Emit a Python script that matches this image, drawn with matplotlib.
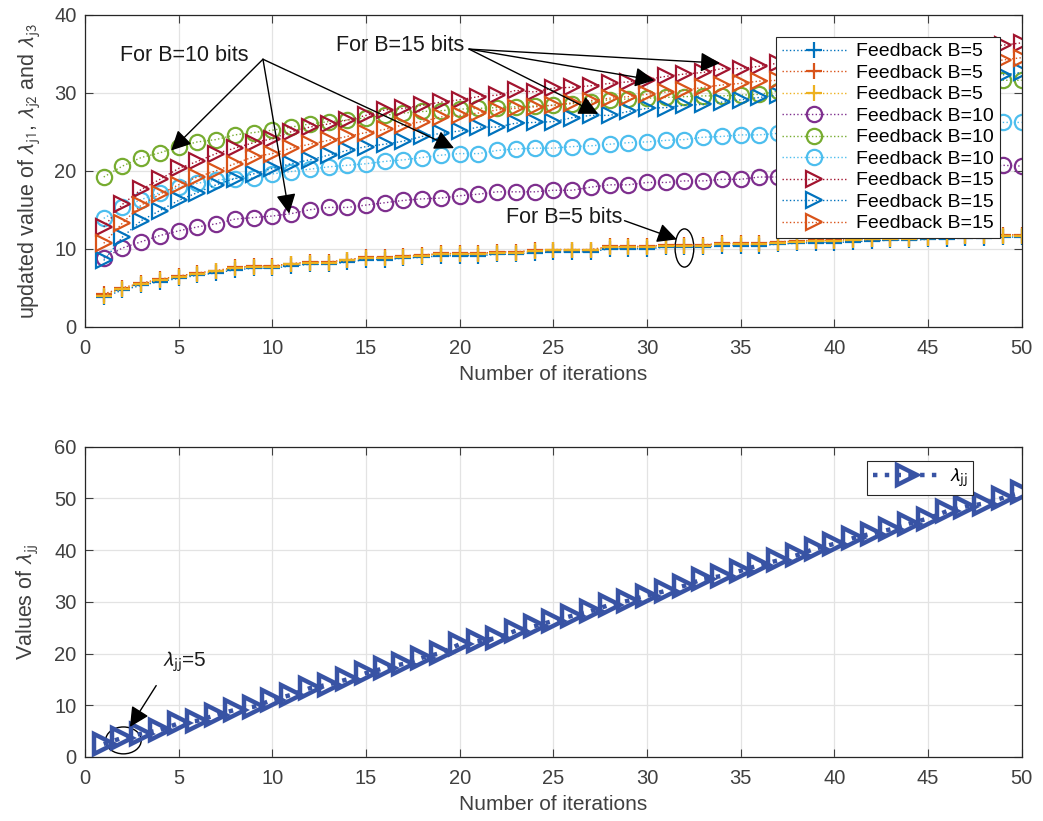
import matplotlib.pyplot as plt
from matplotlib.patches import Ellipse

plt.rcParams['font.family'] = ['Liberation Sans', 'DejaVu Sans']
plt.rcParams['mathtext.fontset'] = 'stixsans'

# iterations
iters = list(range(1, 51))

# Feedback B=5 (three users)
b5_u1 = [3.8, 4.7, 5.3, 5.8, 6.2, 6.6, 6.9, 7.3, 7.5, 7.5, 7.8, 8.0, 8.0, 8.3, 8.6, 8.6, 8.8, 8.9, 9.1, 9.1,
         9.1, 9.3, 9.3, 9.5, 9.6, 9.6, 9.6, 10.0, 10.0, 10.0, 10.2, 10.2, 10.2, 10.4, 10.4, 10.4, 10.6, 10.7, 10.8, 10.8,
         10.9, 11.0, 11.1, 11.1, 11.2, 11.3, 11.4, 11.4, 11.5, 11.5]
b5_u2 = [4.2, 5.0, 5.6, 6.1, 6.5, 6.9, 7.2, 7.6, 7.8, 7.8, 8.1, 8.3, 8.3, 8.6, 8.9, 8.9, 9.1, 9.2, 9.4, 9.4,
         9.4, 9.6, 9.6, 9.8, 9.9, 9.9, 9.9, 10.3, 10.3, 10.3, 10.5, 10.5, 10.5, 10.7, 10.7, 10.7, 10.9, 11.0, 11.1, 11.1,
         11.2, 11.3, 11.4, 11.4, 11.5, 11.6, 11.7, 11.7, 11.8, 11.8]
b5_u3 = [4.0, 4.9, 5.5, 6.0, 6.4, 6.8, 7.1, 7.5, 7.7, 7.7, 8.0, 8.2, 8.2, 8.5, 8.8, 8.8, 9.0, 9.1, 9.3, 9.3,
         9.3, 9.5, 9.5, 9.7, 9.8, 9.8, 9.8, 10.2, 10.2, 10.2, 10.4, 10.4, 10.4, 10.6, 10.6, 10.6, 10.8, 10.9, 11.0, 11.0,
         11.1, 11.2, 11.3, 11.3, 11.4, 11.5, 11.6, 11.6, 11.7, 11.7]

# Feedback B=10 (three users)
b10_u1 = [8.8, 10.1, 10.9, 11.7, 12.3, 12.8, 13.2, 13.8, 14.0, 14.2, 14.5, 15.0, 15.3, 15.3, 15.6, 15.9, 16.2, 16.4, 16.5, 16.8,
          17.0, 17.3, 17.3, 17.3, 17.5, 17.5, 17.9, 18.2, 18.2, 18.5, 18.5, 18.7, 18.7, 18.9, 18.9, 19.2, 19.2, 19.4, 19.5, 19.6,
          19.7, 19.8, 19.9, 20.0, 20.1, 20.2, 20.3, 20.4, 20.7, 20.6]
b10_u2 = [19.2, 20.6, 21.7, 22.3, 23.1, 23.7, 24.0, 24.6, 24.9, 25.2, 25.6, 26.0, 26.3, 26.5, 26.8, 27.1, 27.4, 27.6, 27.7, 27.9,
          28.0, 28.1, 28.2, 28.3, 28.4, 28.6, 28.8, 29.1, 29.2, 29.3, 29.4, 29.5, 29.6, 29.6, 29.7, 29.8, 30.2, 30.3, 30.4, 30.5,
          30.6, 30.7, 30.8, 30.9, 31.0, 31.1, 31.2, 31.3, 31.6, 31.6]
b10_u3 = [13.9, 15.3, 16.3, 17.2, 17.9, 18.4, 18.8, 19.0, 19.1, 19.6, 19.9, 20.2, 20.5, 20.7, 20.9, 21.2, 21.4, 21.7, 22.0, 22.2,
          22.2, 22.6, 22.8, 22.9, 22.9, 23.1, 23.2, 23.4, 23.6, 23.7, 23.9, 24.0, 24.3, 24.4, 24.6, 24.6, 24.8, 24.9, 25.0, 25.1,
          25.2, 25.3, 25.4, 25.5, 25.6, 25.7, 25.8, 26.0, 26.2, 26.2]

# Feedback B=15 (three users)
b15_u1 = [12.8, 15.7, 17.6, 18.9, 20.3, 21.2, 22.2, 22.9, 23.6, 24.1, 25.0, 25.6, 26.0, 26.5, 27.1, 27.8, 28.0, 28.4, 28.8, 29.1,
          29.5, 29.7, 30.3, 30.1, 30.6, 30.7, 30.9, 31.2, 31.4, 31.7, 32.1, 32.4, 32.6, 33.1, 33.1, 33.4, 33.8, 34.0, 34.2, 34.4,
          34.6, 34.8, 35.0, 35.2, 35.4, 35.6, 35.7, 35.9, 36.1, 36.4]
b15_u2 = [8.5, 11.5, 13.6, 14.9, 16.2, 17.2, 18.2, 19.0, 19.6, 20.3, 20.9, 21.4, 22.0, 22.6, 23.1, 23.4, 23.8, 24.4, 24.8, 25.1,
          25.6, 25.6, 26.1, 26.2, 26.3, 26.8, 27.1, 27.1, 27.6, 28.0, 28.1, 28.4, 28.5, 28.8, 29.1, 29.4, 29.7, 29.9, 30.1, 30.3,
          30.5, 30.7, 30.9, 31.1, 31.3, 31.5, 31.7, 31.9, 32.3, 32.6]
b15_u3 = [10.7, 13.3, 15.6, 17.0, 18.2, 19.2, 20.0, 20.9, 21.8, 22.2, 22.9, 23.4, 23.9, 24.4, 24.9, 25.3, 25.9, 26.3, 26.9, 27.1,
          27.4, 27.8, 28.0, 28.2, 28.4, 28.7, 29.0, 29.3, 29.5, 29.8, 30.1, 30.3, 30.7, 31.0, 31.2, 31.5, 31.6, 31.8, 32.0, 32.2,
          32.4, 32.6, 32.8, 33.0, 33.3, 33.5, 33.7, 33.9, 34.2, 34.5]

# lambda_jj (bottom panel)
lam_jj = [2.5, 3.7, 4.5, 5.2, 6.5, 7.0, 8.1, 9.1, 9.7, 11.0, 12.0, 13.3, 14.0, 15.0, 16.2, 17.2, 18.0, 19.2, 20.1, 21.8,
          22.4, 23.0, 24.4, 25.3, 26.3, 27.3, 28.2, 29.4, 30.2, 31.2, 32.1, 33.1, 34.4, 35.0, 36.0, 37.1, 38.0, 39.0, 40.3, 41.2,
          42.3, 43.2, 44.0, 45.1, 46.1, 47.5, 48.4, 49.0, 50.1, 51.2]

c_blue = '#0072BD'
c_orange = '#D95319'
c_yellow = '#EDB120'
c_purple = '#7E2F8E'
c_green = '#77AC30'
c_cyan = '#4DBEEE'
c_red = '#A2142F'
txt_col = '#404040'

fig = plt.figure(figsize=(10.43, 8.21), dpi=100)
ax1 = fig.add_axes([0.0815, 0.602, 0.898, 0.380])
ax2 = fig.add_axes([0.0815, 0.078, 0.898, 0.378])

series = [
    (b5_u1, '+', c_blue, 'Feedback B=5'),
    (b5_u2, '+', c_orange, 'Feedback B=5'),
    (b5_u3, '+', c_yellow, 'Feedback B=5'),
    (b10_u1, 'o', c_purple, 'Feedback B=10'),
    (b10_u2, 'o', c_green, 'Feedback B=10'),
    (b10_u3, 'o', c_cyan, 'Feedback B=10'),
    (b15_u1, '>', c_red, 'Feedback B=15'),
    (b15_u2, '>', c_blue, 'Feedback B=15'),
    (b15_u3, '>', c_orange, 'Feedback B=15'),
]
for vals, mk, col, lab in series:
    ax1.plot(iters, vals, linestyle=':', linewidth=1.0, color=col, marker=mk,
             markersize=11 if mk != '+' else 12, markerfacecolor='none',
             markeredgewidth=1.6, label=lab)

ax1.set_xlim(0, 50)
ax1.set_ylim(0, 40)
ax1.set_xticks(range(0, 51, 5))
ax1.set_yticks(range(0, 41, 10))
ax1.set_xlabel('Number of iterations', fontsize=15, color=txt_col, labelpad=5)
ax1.set_ylabel(r'updated value of $\lambda_{\mathrm{j1}}$, $\lambda_{\mathrm{j2}}$ and $\lambda_{\mathrm{j3}}$',
               fontsize=15.5, color=txt_col, labelpad=9)
leg1 = ax1.legend(loc='upper right', bbox_to_anchor=(0.9765, 0.929), borderaxespad=0,
                  fontsize=14, labelspacing=0.2, handlelength=3.3, handletextpad=0.5,
                  fancybox=False, edgecolor='#262626', framealpha=1, borderpad=0.3)
leg1.get_frame().set_linewidth(0.8)

# annotations top panel
arr = dict(arrowstyle='-|>', color='black', lw=1.0, mutation_scale=30, shrinkA=0, shrinkB=0)
ax1.text(5.3, 34.8, 'For B=10 bits', fontsize=15.5, ha='center', va='center', color='#1a1a1a')
for tgt in [(4.6, 22.6), (10.9, 14.5), (19.7, 22.9)]:
    ax1.annotate('', xy=tgt, xytext=(9.5, 34.3), arrowprops=arr)
ax1.text(16.8, 36.1, 'For B=15 bits', fontsize=15.5, ha='center', va='center', color='#1a1a1a')
for tgt in [(33.9, 33.8), (30.4, 31.6), (27.4, 27.3)]:
    ax1.annotate('', xy=tgt, xytext=(20.5, 35.6), arrowprops=arr)
ax1.text(25.6, 14.0, 'For B=5 bits', fontsize=15.5, ha='center', va='center', color='#1a1a1a')
ax1.annotate('', xy=(31.6, 11.2), xytext=(28.8, 13.6), arrowprops=arr)
ax1.add_patch(Ellipse((32.0, 10.1), 1.0, 4.9, fill=False, edgecolor='black', lw=1.0))

# bottom panel
ax2.plot(iters, lam_jj, linestyle=':', linewidth=3.2, color='#3853A4', marker='>',
         markersize=15, markerfacecolor='none', markeredgewidth=3.2, label=r'$\lambda_{\mathrm{jj}}$')
ax2.set_xlim(0, 50)
ax2.set_ylim(0, 60)
ax2.set_xticks(range(0, 51, 5))
ax2.set_yticks(range(0, 61, 10))
ax2.set_xlabel('Number of iterations', fontsize=15, color=txt_col, labelpad=5)
ax2.set_ylabel(r'Values of $\lambda_{\mathrm{jj}}$', fontsize=15.5, color=txt_col, labelpad=10)
leg2 = ax2.legend(loc='upper right', bbox_to_anchor=(0.948, 0.955), borderaxespad=0,
                  fontsize=14, handlelength=3.5, handletextpad=0.4,
                  fancybox=False, edgecolor='#262626', framealpha=1, borderpad=0.3)
leg2.get_frame().set_linewidth(0.8)
ax2.text(4.1, 18.3, r'$\lambda_{\mathrm{jj}}$=5', fontsize=15, ha='left', va='center', color='#1a1a1a')
ax2.annotate('', xy=(2.4, 5.8), xytext=(3.8, 13.8), arrowprops=arr)
ax2.add_patch(Ellipse((2.05, 3.2), 1.9, 5.2, fill=False, edgecolor='black', lw=1.0))

for ax in (ax1, ax2):
    ax.grid(True, color='#e3e3e3', linewidth=0.9)
    ax.set_axisbelow(True)
    ax.tick_params(direction='in', top=True, right=True, labelsize=14.5,
                   colors=txt_col, length=6)
    ax.tick_params(axis='x', pad=9)
    ax.tick_params(axis='y', pad=6)
    for s in ax.spines.values():
        s.set_color('#262626')
        s.set_linewidth(0.9)

fig.savefig('out.png', dpi=100)
